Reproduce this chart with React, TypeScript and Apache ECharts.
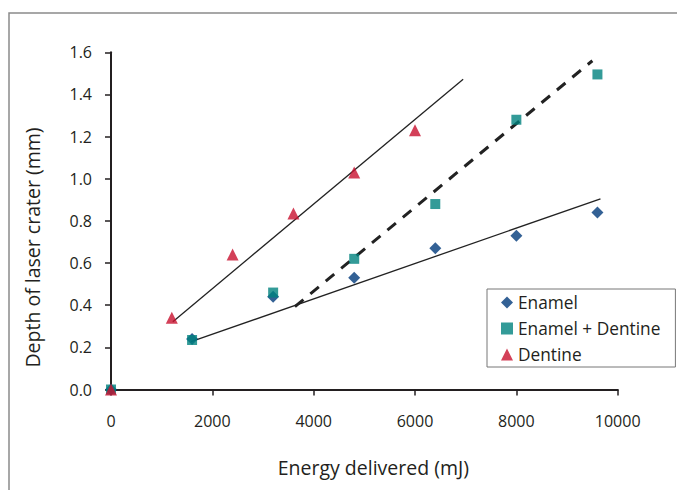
import React, { useEffect, useRef } from "react";
import * as echarts from "echarts";

const seriesNames = ["Enamel", "Enamel + Dentine", "Dentine"];

const enamelX = [0, 1600, 3200, 4800, 6400, 8000, 9600];
const enamelY = [0, 0.24, 0.44, 0.53, 0.67, 0.73, 0.84];

const enamelDentineX = [0, 1600, 3200, 4800, 6400, 8000, 9600];
const enamelDentineY = [0, 0.235, 0.46, 0.62, 0.88, 1.28, 1.495];

const dentineX = [0, 1200, 2400, 3600, 4800, 6000];
const dentineY = [0, 0.34, 0.64, 0.835, 1.03, 1.23];

// Trend line endpoints [x0, y0, x1, y1]
const enamelTrend = [1580, 0.227, 9660, 0.905];
const enamelDentineTrend = [3630, 0.393, 9500, 1.56];
const dentineTrend = [1220, 0.322, 6950, 1.472];

const xTicks = { min: 0, max: 10000, interval: 2000 };
const yTicks = { min: 0, max: 1.6, interval: 0.2 };

const colors = ["#003a7a", "#00827e", "#c8102e"];
const textColor = "#231f20";
const FONT = "Open Sans";
const FS = 16;
const FS_TITLE = 19.5;
const FS_LEGEND = 17.3;
const FW = 500;

const zip = (xs: number[], ys: number[]) => xs.map((x, i) => [x, ys[i]]);
const seg = (t: number[]) => [
  [t[0], t[1]],
  [t[2], t[3]],
];

export default function App() {
  const ref = useRef<HTMLDivElement>(null);
  useEffect(() => {
    if (!ref.current) return;
    const chart = echarts.init(ref.current, undefined, { renderer: "svg" });
    const trendLine = (t: number[], dashed: boolean) => ({
      type: "line",
      data: seg(t),
      showSymbol: false,
      symbol: "none",
      silent: true,
      z: 1,
      lineStyle: {
        color: "#222",
        width: dashed ? 3 : 1.3,
        type: dashed ? [11, 9] : "solid",
      },
    });
    chart.setOption({
      animation: false,
      backgroundColor: "#fff",
      textStyle: { fontFamily: FONT, fontWeight: FW },
      graphic: [
        {
          type: "rect",
          shape: { x: 9, y: 13, width: 700, height: 500 },
          style: { fill: "none", stroke: "#8a8a8a", lineWidth: 1.5 },
          silent: true,
        },
        {
          type: "text",
          x: 32,
          y: 247.5,
          rotation: Math.PI / 2,
          style: {
            text: "Depth of laser crater (mm)",
            fill: textColor,
            font: `${FW} ${FS_TITLE}px "${FONT}"`,
            textAlign: "center",
            textVerticalAlign: "middle",
          },
        },
      ],
      grid: { left: 111, right: 59.3, top: 52.3, bottom: 100.5 },
      legend: {
        orient: "vertical",
        left: 487,
        top: 289,
        data: seriesNames,
        itemWidth: 12,
        itemHeight: 12,
        itemGap: 9,
        padding: [5, 15, 4, 14],
        borderColor: "#777",
        borderWidth: 1,
        backgroundColor: "#fff",
        textStyle: { fontSize: FS_LEGEND, color: textColor, fontFamily: FONT, fontWeight: FW },
      },
      xAxis: {
        type: "value",
        min: xTicks.min,
        max: xTicks.max,
        interval: xTicks.interval,
        name: "Energy delivered (mJ)",
        nameLocation: "middle",
        nameGap: 68,
        nameTextStyle: { fontSize: FS_TITLE, color: textColor, fontWeight: FW, padding: [0, 0, 0, 18] },
        axisLine: { lineStyle: { color: textColor, width: 2 } },
        axisTick: { length: 6, lineStyle: { color: textColor, width: 1.5 } },
        axisLabel: {
          fontSize: FS,
          color: textColor,
          fontWeight: FW,
          margin: 23,
          formatter: (v: number) => String(v),
        },
        splitLine: { show: false },
      },
      yAxis: {
        type: "value",
        min: yTicks.min,
        max: yTicks.max,
        interval: yTicks.interval,
        axisLine: { show: true, lineStyle: { color: textColor, width: 2 } },
        axisTick: { show: true, length: 6, lineStyle: { color: textColor, width: 1.5 } },
        axisLabel: {
          fontSize: FS,
          color: textColor,
          fontWeight: FW,
          margin: 19,
          formatter: (v: number) => v.toFixed(1),
        },
        splitLine: { show: false },
      },
      series: [
        trendLine(enamelTrend, false),
        trendLine(enamelDentineTrend, true),
        trendLine(dentineTrend, false),
        {
          name: seriesNames[0],
          type: "scatter",
          data: zip(enamelX, enamelY),
          symbol: "diamond",
          symbolSize: 12,
          itemStyle: { color: colors[0] },
          z: 3,
        },
        {
          name: seriesNames[1],
          type: "scatter",
          data: zip(enamelDentineX, enamelDentineY),
          symbol: "rect",
          symbolSize: 10,
          itemStyle: { color: colors[1] },
          z: 4,
        },
        {
          name: seriesNames[2],
          type: "scatter",
          data: zip(dentineX, dentineY),
          symbol: "triangle",
          symbolSize: 12,
          itemStyle: { color: colors[2] },
          z: 5,
        },
      ],
    });
    return () => chart.dispose();
  }, []);
  return (
    <div
      ref={ref}
      style={{ position: "fixed", left: 0, top: 0, width: 677, height: 490 }}
    />
  );
}
